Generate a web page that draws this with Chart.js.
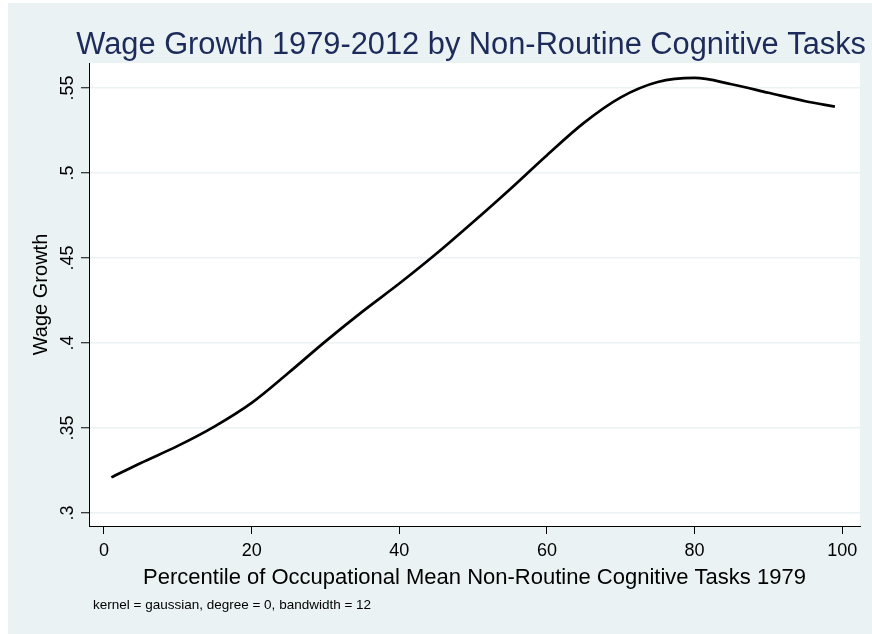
<!DOCTYPE html>
<html><head><meta charset="utf-8">
<script src="https://cdn.jsdelivr.net/npm/chart.js@4.4.1/dist/chart.umd.min.js"></script>
<style>html,body{margin:0;padding:0;background:#fff;} #wrap{width:872px;height:634px;position:relative;}</style>
</head><body><div id="wrap"><canvas id="c" width="872" height="634"></canvas></div>
<script>
const xValues = [1,5,10,15,20,25,30,35,40,45,50,55,60,65,70,75,80,85,90,95,99];
const wageGrowth = [0.321,0.3295,0.3395,0.351,0.3648,0.3825,0.401,0.4185,0.435,0.4525,0.4712,0.4905,0.5105,0.5295,0.5445,0.5535,0.5559,0.5522,0.5472,0.5422,0.539];
const xTickValues = [0,20,40,60,80,100];
const yTickValues = [0.3,0.35,0.4,0.45,0.5,0.55];
const yTickLabels = ['.3','.35','.4','.45','.5','.55'];
const chartTitle = 'Wage Growth 1979-2012 by Non-Routine Cognitive Tasks';
const xAxisTitle = 'Percentile of Occupational Mean Non-Routine Cognitive Tasks 1979';
const yAxisTitle = 'Wage Growth';
const noteText = 'kernel = gaussian, degree = 0, bandwidth = 12';

const FONT = "'Liberation Sans', Arial, sans-serif";
const BG = '#EAF2F3';
Chart.defaults.color = '#000';
Chart.defaults.font.family = FONT;

const bgPlugin = {
  id: 'bg',
  beforeDraw(chart) {
    const {ctx, chartArea: a} = chart;
    ctx.save();
    ctx.fillStyle = '#fff';
    ctx.fillRect(0, 0, chart.width, chart.height);
    ctx.fillStyle = BG;
    ctx.fillRect(8, 3, chart.width - 8, chart.height - 3);
    ctx.fillStyle = '#fff';
    ctx.fillRect(a.left, a.top, a.right - a.left, a.bottom - a.top);
    ctx.restore();
  },
  afterDraw(chart) {
    const ctx = chart.ctx;
    ctx.save();
    ctx.font = '13.5px ' + FONT;
    ctx.fillStyle = '#000';
    ctx.textBaseline = 'middle';
    ctx.textAlign = 'left';
    ctx.fillText(noteText, 93, 605);
    ctx.restore();
  }
};

const points = xValues.map((x, i) => ({x: x, y: wageGrowth[i]}));

new Chart(document.getElementById('c'), {
  type: 'line',
  data: { datasets: [{
    data: points,
    borderColor: '#000',
    borderWidth: 2.7,
    pointRadius: 0,
    fill: false,
    cubicInterpolationMode: 'monotone'
  }]},
  options: {
    responsive: false,
    animation: false,
    devicePixelRatio: 1,
    layout: { padding: { left: 8, right: 6, top: 0, bottom: 0 } },
    plugins: {
      legend: { display: false },
      tooltip: { enabled: false },
      title: {
        display: true, text: chartTitle, align: 'end', color: '#1c2b5a',
        font: { family: FONT, size: 30.8, weight: 'normal', lineHeight: 1.0 },
        padding: { top: 30.5, bottom: 1.7 }
      }
    },
    scales: {
      x: {
        type: 'linear', min: -2.03, max: 102.4,
        afterBuildTicks: s => { s.ticks = xTickValues.map(v => ({value: v})); },
        afterFit: s => { s.height = 108; },
        ticks: { font: { size: 18 }, color: '#000', padding: 6.2, maxRotation: 0, callback: v => String(v) },
        grid: { drawOnChartArea: false, drawTicks: true, tickLength: 8, tickColor: '#000', tickWidth: 1 },
        border: { display: true, color: '#000', width: 1 },
        title: { display: true, text: xAxisTitle, color: '#000', font: { size: 22 }, padding: { top: 0, bottom: 42.8 } }
      },
      y: {
        type: 'linear', min: 0.2924, max: 0.5647,
        afterBuildTicks: s => { s.ticks = yTickValues.map(v => ({value: v})); },
        afterFit: s => { s.width = 81; },
        ticks: {
          font: { size: 18 }, color: '#000', padding: 0, minRotation: 90, maxRotation: 90, crossAlign: 'center',
          callback: v => { const i = yTickValues.findIndex(t => Math.abs(t - v) < 1e-9); return i >= 0 ? yTickLabels[i] : ''; }
        },
        grid: { color: BG, lineWidth: 1.5, drawTicks: true, tickLength: 8, tickColor: '#000', tickWidth: 1 },
        border: { display: true, color: '#000', width: 1 },
        title: { display: true, text: yAxisTitle, color: '#000', font: { size: 20 }, padding: { top: 21, bottom: 0 } }
      },
      yR: {
        type: 'linear', position: 'right', display: true,
        afterFit: s => { s.width = 6; },
        ticks: { display: false },
        grid: { display: false, drawTicks: false },
        border: { display: false },
        title: { display: false }
      }
    }
  },
  plugins: [bgPlugin]
});
</script></body></html>
